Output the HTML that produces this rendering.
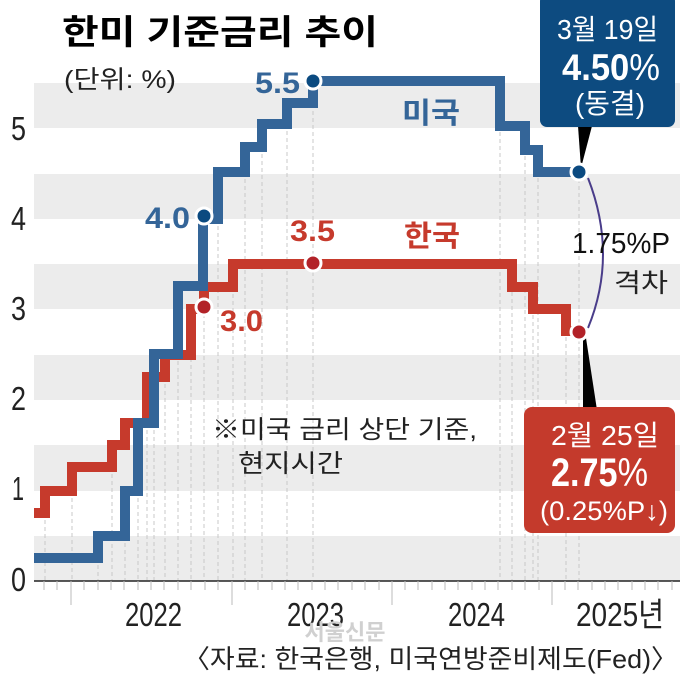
<!DOCTYPE html>
<html><head><meta charset="utf-8"><style>
html,body{margin:0;padding:0;background:#fff;}
svg{display:block;}
text{font-family:"Liberation Sans","Noto Sans CJK KR",sans-serif;}
</style></head><body>
<svg width="680" height="675" viewBox="0 0 680 675" xmlns="http://www.w3.org/2000/svg">
<g fill="#ececec">
<rect x="34" y="536" width="646" height="45"/>
<rect x="34" y="445" width="646" height="46"/>
<rect x="34" y="355" width="646" height="45"/>
<rect x="34" y="264" width="646" height="45"/>
<rect x="34" y="174" width="646" height="45"/>
<rect x="34" y="83" width="646" height="45"/>
</g>
<g stroke="#c8c8c8" stroke-width="1" stroke-dasharray="4,3">
<line x1="45" y1="513" x2="45" y2="580"/>
<line x1="72" y1="491" x2="72" y2="580"/>
<line x1="98" y1="558" x2="98" y2="580"/>
<line x1="112" y1="467" x2="112" y2="580"/>
<line x1="125" y1="536" x2="125" y2="580"/>
<line x1="138" y1="491" x2="138" y2="580"/>
<line x1="147" y1="423" x2="147" y2="580"/>
<line x1="154" y1="423" x2="154" y2="580"/>
<line x1="165" y1="377" x2="165" y2="580"/>
<line x1="178" y1="354" x2="178" y2="580"/>
<line x1="191" y1="309" x2="191" y2="580"/>
<line x1="204" y1="307" x2="204" y2="580"/>
<line x1="218" y1="219" x2="218" y2="580"/>
<line x1="233" y1="287" x2="233" y2="580"/>
<line x1="245" y1="172" x2="245" y2="580"/>
<line x1="262" y1="147" x2="262" y2="580"/>
<line x1="287" y1="124" x2="287" y2="580"/>
<line x1="313" y1="83" x2="313" y2="580"/>
<line x1="500" y1="83" x2="500" y2="580"/>
<line x1="512" y1="264" x2="512" y2="580"/>
<line x1="525" y1="128" x2="525" y2="580"/>
<line x1="533" y1="287" x2="533" y2="580"/>
<line x1="538" y1="150" x2="538" y2="580"/>
<line x1="566" y1="309" x2="566" y2="580"/>
<line x1="579" y1="172" x2="579" y2="580"/>
</g>
<line x1="34" y1="581" x2="680" y2="581" stroke="#222" stroke-width="1.5"/>
<g stroke="#bbb" stroke-width="1">
<line x1="71" y1="581" x2="71" y2="605"/><line x1="232" y1="581" x2="232" y2="605"/>
<line x1="392" y1="581" x2="392" y2="605"/><line x1="552" y1="581" x2="552" y2="605"/>
</g>
<g stroke="#bbb" stroke-width="1">
<line x1="84" y1="581" x2="84" y2="590"/><line x1="98" y1="581" x2="98" y2="590"/><line x1="111" y1="581" x2="111" y2="590"/><line x1="124" y1="581" x2="124" y2="590"/><line x1="138" y1="581" x2="138" y2="590"/><line x1="151" y1="581" x2="151" y2="590"/><line x1="164" y1="581" x2="164" y2="590"/><line x1="178" y1="581" x2="178" y2="590"/><line x1="191" y1="581" x2="191" y2="590"/><line x1="205" y1="581" x2="205" y2="590"/><line x1="218" y1="581" x2="218" y2="590"/>
<line x1="245" y1="581" x2="245" y2="590"/><line x1="258" y1="581" x2="258" y2="590"/><line x1="272" y1="581" x2="272" y2="590"/><line x1="285" y1="581" x2="285" y2="590"/><line x1="298" y1="581" x2="298" y2="590"/><line x1="312" y1="581" x2="312" y2="590"/><line x1="325" y1="581" x2="325" y2="590"/><line x1="338" y1="581" x2="338" y2="590"/><line x1="352" y1="581" x2="352" y2="590"/><line x1="365" y1="581" x2="365" y2="590"/><line x1="379" y1="581" x2="379" y2="590"/>
<line x1="405" y1="581" x2="405" y2="590"/><line x1="418" y1="581" x2="418" y2="590"/><line x1="432" y1="581" x2="432" y2="590"/><line x1="445" y1="581" x2="445" y2="590"/><line x1="458" y1="581" x2="458" y2="590"/><line x1="472" y1="581" x2="472" y2="590"/><line x1="485" y1="581" x2="485" y2="590"/><line x1="498" y1="581" x2="498" y2="590"/><line x1="512" y1="581" x2="512" y2="590"/><line x1="525" y1="581" x2="525" y2="590"/><line x1="539" y1="581" x2="539" y2="590"/>
<line x1="565" y1="581" x2="565" y2="590"/><line x1="578" y1="581" x2="578" y2="590"/><line x1="592" y1="581" x2="592" y2="590"/><line x1="605" y1="581" x2="605" y2="590"/><line x1="618" y1="581" x2="618" y2="590"/><line x1="632" y1="581" x2="632" y2="590"/><line x1="645" y1="581" x2="645" y2="590"/><line x1="658" y1="581" x2="658" y2="590"/><line x1="672" y1="581" x2="672" y2="590"/>
<line x1="44" y1="581" x2="44" y2="590"/><line x1="57" y1="581" x2="57" y2="590"/>
</g>
<polyline fill="none" stroke="#c63a2c" stroke-width="10"
points="34,513 45,513 45,491 72,491 72,467 112,467 112,445 125,445 125,423 147,423 147,377 165,377 165,355 191,355 191,309 204,309 204,287 233,287 233,264 512,264 512,287 533,287 533,309 566,309 566,331 579,331"/>
<polyline fill="none" stroke="#346598" stroke-width="10"
points="34,558 98,558 98,536 125,536 125,491 138,491 138,423 154,423 154,354 178,354 178,286 203,286 203,219 218,219 218,172 245,172 245,147 262,147 262,124 287,124 287,103 313,103 313,81 500,81 500,126 525,126 525,150 538,150 538,172 579,172"/>
<path d="M588,178 Q618,255 588,328" fill="none" stroke="#4a3d8a" stroke-width="2"/>
<polygon points="578,126 592,126 581,168" fill="#000"/>
<polygon points="583,338 586,338 597,410 583,410" fill="#000"/>
<g stroke="#fff" stroke-width="3">
<circle cx="313" cy="81" r="8" fill="#0b4a80"/>
<circle cx="204" cy="216" r="8" fill="#0b4a80"/>
<circle cx="579" cy="172" r="8" fill="#0b4a80"/>
<circle cx="313" cy="263" r="8" fill="#b22228"/>
<circle cx="204" cy="307" r="8" fill="#b22228"/>
<circle cx="579" cy="332" r="8" fill="#b22228"/>
</g>
<rect x="540" y="-6" width="135" height="133" rx="7" fill="#0d4b80"/>
<text x="557" y="39" fill="#fff" font-size="28" textLength="101" lengthAdjust="spacingAndGlyphs">3월 19일</text>
<text x="562" y="80" fill="#fff" font-size="37" font-weight="bold" textLength="98" lengthAdjust="spacingAndGlyphs">4.50<tspan font-weight="normal">%</tspan></text>
<text x="575" y="113" fill="#fff" font-size="28" textLength="70" lengthAdjust="spacingAndGlyphs">(동결)</text>
<rect x="524" y="407" width="151" height="126" rx="8" fill="#c43a2c"/>
<text x="551" y="445" fill="#fff" font-size="28" textLength="108" lengthAdjust="spacingAndGlyphs">2월 25일</text>
<text x="551" y="486" fill="#fff" font-size="40" font-weight="bold" textLength="97" lengthAdjust="spacingAndGlyphs">2.75<tspan font-weight="normal">%</tspan></text>
<text x="540" y="520" fill="#fff" font-size="27" textLength="128" lengthAdjust="spacingAndGlyphs">(0.25%P↓)</text>
<text x="62" y="44" font-size="34" font-weight="bold" textLength="316" lengthAdjust="spacingAndGlyphs">한미 기준금리 추이</text>
<text x="64" y="88" font-size="25" fill="#222" textLength="112" lengthAdjust="spacingAndGlyphs">(단위: %)</text>
<g font-size="33" fill="#222">
<text x="11" y="140" textLength="15" lengthAdjust="spacingAndGlyphs">5</text>
<text x="11" y="230" textLength="15" lengthAdjust="spacingAndGlyphs">4</text>
<text x="11" y="320" textLength="15" lengthAdjust="spacingAndGlyphs">3</text>
<text x="11" y="410" textLength="15" lengthAdjust="spacingAndGlyphs">2</text>
<text x="12" y="500" textLength="12" lengthAdjust="spacingAndGlyphs">1</text>
<text x="11" y="591" textLength="15" lengthAdjust="spacingAndGlyphs">0</text>
</g>
<g font-size="33" fill="#222">
<text x="125" y="626" textLength="57" lengthAdjust="spacingAndGlyphs">2022</text>
<text x="287" y="626" textLength="57" lengthAdjust="spacingAndGlyphs">2023</text>
<text x="448" y="626" textLength="57" lengthAdjust="spacingAndGlyphs">2024</text>
<text x="576" y="626" textLength="88" lengthAdjust="spacingAndGlyphs">2025년</text>
</g>
<text x="345" y="640" font-size="22" fill="#d0d0d0" font-weight="bold" text-anchor="middle">서울신문</text>
<text x="183" y="668" font-size="26" fill="#222" textLength="495" lengthAdjust="spacingAndGlyphs">〈자료: 한국은행, 미국연방준비제도(Fed)〉</text>
<g font-weight="bold">
<text x="255" y="93" fill="#346598" font-size="30" textLength="45" lengthAdjust="spacingAndGlyphs">5.5</text>
<text x="145" y="228" fill="#346598" font-size="30" textLength="45" lengthAdjust="spacingAndGlyphs">4.0</text>
<text x="290" y="241" fill="#c63a2c" font-size="30" textLength="45" lengthAdjust="spacingAndGlyphs">3.5</text>
<text x="220" y="331" fill="#c63a2c" font-size="30" textLength="43" lengthAdjust="spacingAndGlyphs">3.0</text>
<text x="402" y="123" fill="#346598" font-size="29" textLength="58" lengthAdjust="spacingAndGlyphs">미국</text>
<text x="404" y="246" fill="#c63a2c" font-size="29" textLength="56" lengthAdjust="spacingAndGlyphs">한국</text>
</g>
<text x="572" y="253" font-size="29" fill="#111" textLength="98" lengthAdjust="spacingAndGlyphs">1.75%P</text>
<text x="614" y="292" font-size="26" fill="#222" textLength="54" lengthAdjust="spacingAndGlyphs">격차</text>
<text x="212" y="438" font-size="25" fill="#222" textLength="265" lengthAdjust="spacingAndGlyphs">※미국 금리 상단 기준,</text>
<text x="238" y="472" font-size="25" fill="#222" textLength="105" lengthAdjust="spacingAndGlyphs">현지시간</text>
</svg>
</body></html>
